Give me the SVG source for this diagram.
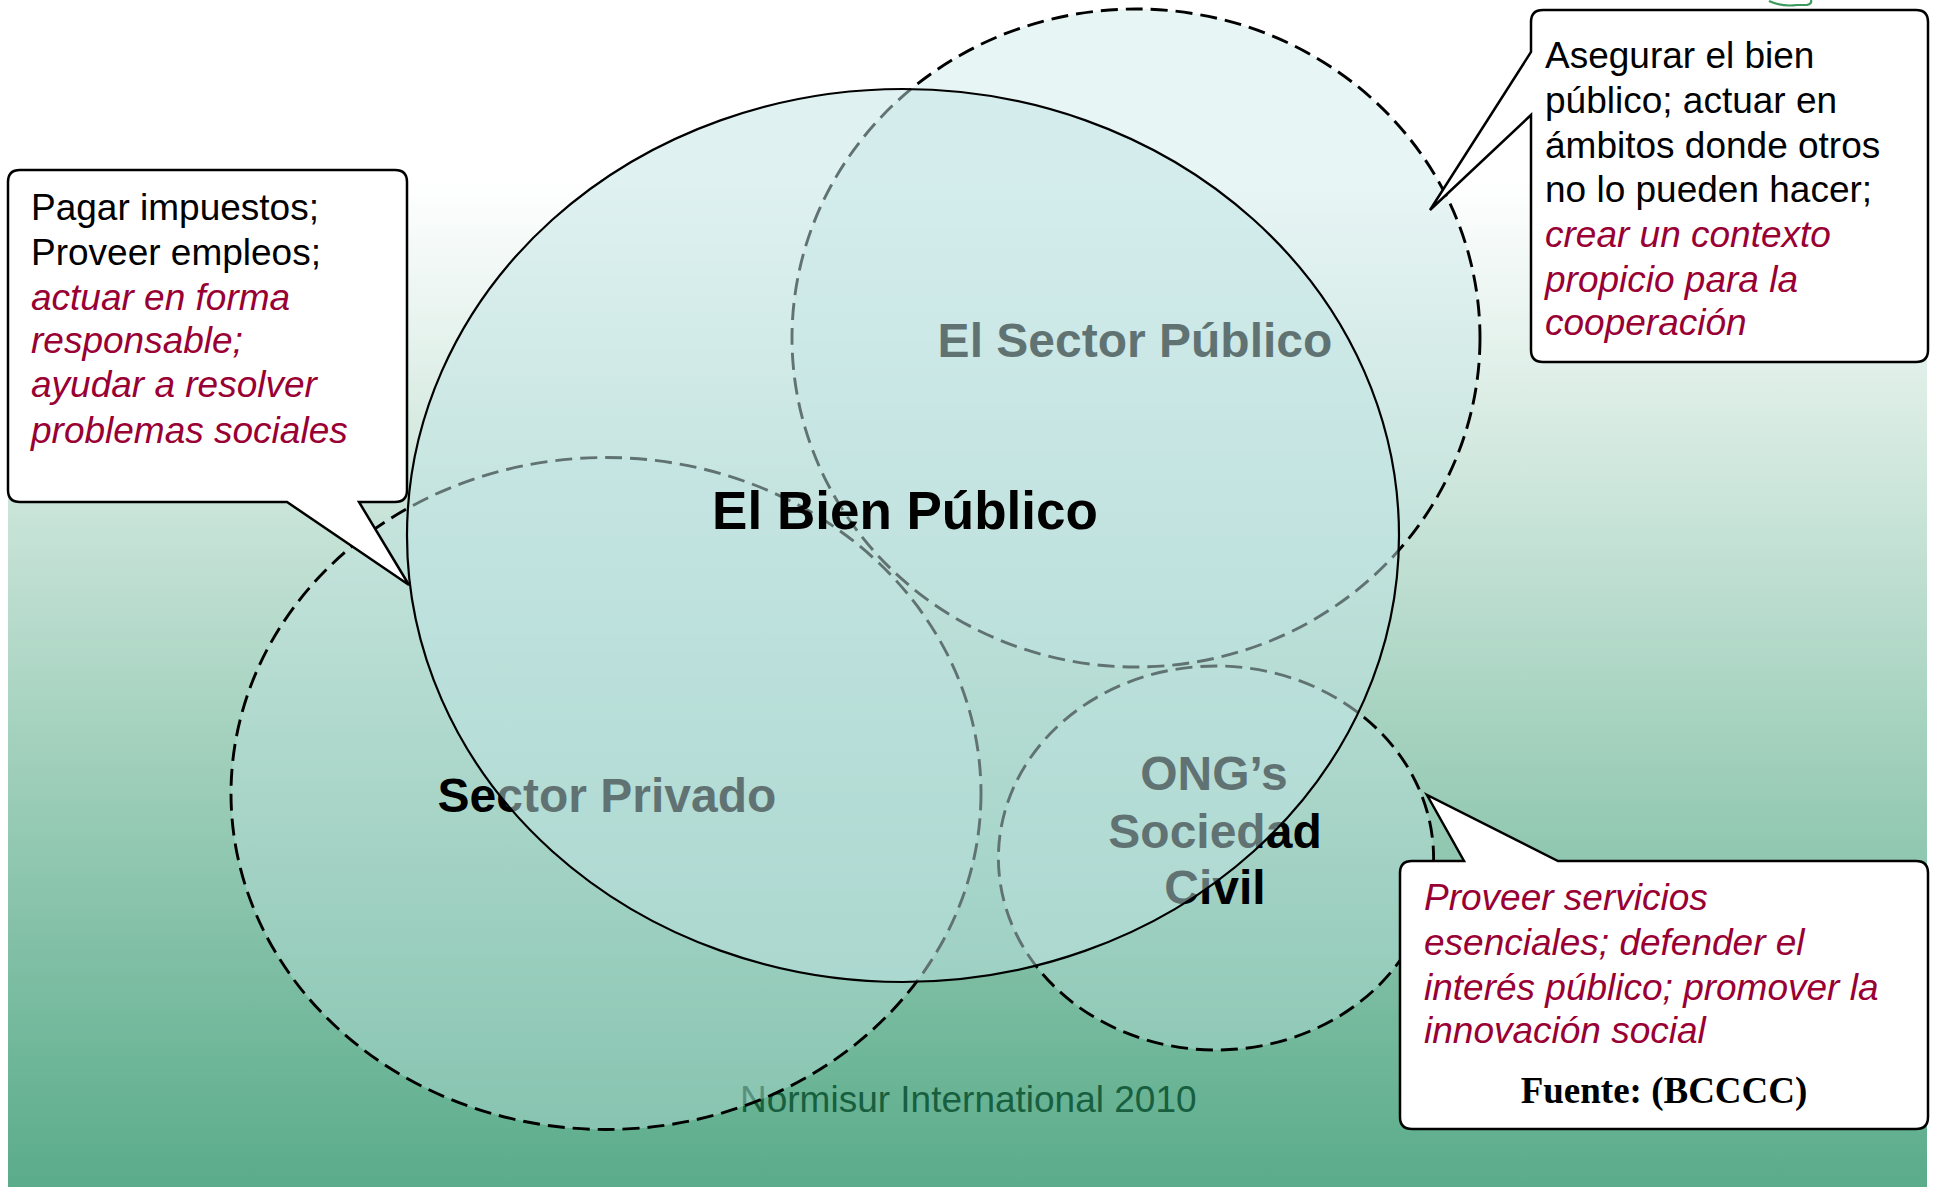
<svg xmlns="http://www.w3.org/2000/svg" width="1933" height="1187" viewBox="0 0 1933 1187">
  <defs>
    <linearGradient id="bg" gradientUnits="userSpaceOnUse" x1="0" y1="0" x2="0" y2="1187">
      <stop offset="0" stop-color="#ffffff"/>
      <stop offset="0.152" stop-color="#ffffff"/>
      <stop offset="1" stop-color="#5aac8a"/>
    </linearGradient>
  </defs>
  <style>
    .dash { fill: rgba(195,230,230,0.38); stroke: #000; stroke-width: 2.9; stroke-dasharray: 17 8; }
    .big { fill: rgba(191,227,227,0.5); stroke: #000; stroke-width: 2.2; }
    .call { fill: #fff; stroke: #000; stroke-width: 2.5; stroke-linejoin: miter; }
    .t { font-family: "Liberation Sans", Arial, sans-serif; font-size: 37px; fill: #000; }
    .r { font-style: italic; fill: #990033; }
    .lbl { font-family: "Liberation Sans", Arial, sans-serif; font-size: 48px; font-weight: bold; fill: #000; text-anchor: middle; }
  </style>

  <rect x="8" y="0" width="1919" height="1187" fill="url(#bg)"/>

  <path d="M1769,1 Q1782,7 1797,5 L1807,5 Q1812,4 1811,0" fill="none" stroke="#3c9a5c" stroke-width="2.2"/>

  <text id="watermark" class="t" x="740" y="1112" style="fill:#175f3f">Normisur International 2010</text>

  <g id="sector-publico">
    <ellipse class="dash" cx="1136" cy="338" rx="344" ry="329"/>
  </g>
  <g id="sector-privado">
    <ellipse class="dash" cx="606" cy="793.5" rx="375" ry="336"/>
  </g>
  <g id="ong-sociedad-civil">
    <ellipse class="dash" cx="1216" cy="858" rx="217.6" ry="192"/>
  </g>

  <g id="labels">
    <text class="lbl" x="1135" y="357">El Sector Público</text>
    <text class="lbl" x="607" y="812">Sector Privado</text>
    <text class="lbl" x="1214" y="790">ONG’s</text>
    <text class="lbl" x="1215" y="848">Sociedad</text>
    <text class="lbl" x="1215" y="904">Civil</text>
  </g>

  <g id="bien-publico">
    <ellipse class="big" cx="903" cy="535.5" rx="496" ry="446.5"/>
    <text class="lbl" x="905" y="529" style="font-size:53px">El Bien Público</text>
  </g>

  <g id="connectors"></g>

  <g id="callout-privado">
    <path class="call" d="M20,170 H395 Q407,170 407,182 V490 Q407,502 395,502 H359 L409,585 L287,502 H20 Q8,502 8,490 V182 Q8,170 20,170 Z"/>
    <text class="t" x="31" y="220">Pagar impuestos;</text>
    <text class="t" x="31" y="265">Proveer empleos;</text>
    <text class="t r" x="31" y="310">actuar en forma</text>
    <text class="t r" x="31" y="353">responsable;</text>
    <text class="t r" x="31" y="397">ayudar a resolver</text>
    <text class="t r" x="31" y="443">problemas sociales</text>
  </g>

  <g id="callout-publico">
    <path class="call" d="M1543,10 H1916 Q1928,10 1928,22 V350 Q1928,362 1916,362 H1543 Q1531,362 1531,350 V115 L1430,210 L1531,52 V22 Q1531,10 1543,10 Z"/>
    <text class="t" x="1545" y="68">Asegurar el bien</text>
    <text class="t" x="1545" y="113">público; actuar en</text>
    <text class="t" x="1545" y="158">ámbitos donde otros</text>
    <text class="t" x="1545" y="202">no lo pueden hacer;</text>
    <text class="t r" x="1545" y="247">crear un contexto</text>
    <text class="t r" x="1545" y="292">propicio para la</text>
    <text class="t r" x="1545" y="335">cooperación</text>
  </g>

  <g id="callout-ong">
    <path class="call" d="M1412,861 H1464 L1427,795 L1558,861 H1916 Q1928,861 1928,873 V1117 Q1928,1129 1916,1129 H1412 Q1400,1129 1400,1117 V873 Q1400,861 1412,861 Z"/>
    <text class="t r" x="1424" y="910">Proveer servicios</text>
    <text class="t r" x="1424" y="955">esenciales; defender el</text>
    <text class="t r" x="1424" y="1000">interés público; promover la</text>
    <text class="t r" x="1424" y="1043">innovación social</text>
    <text x="1664" y="1103" text-anchor="middle" style="font-family:'Liberation Serif','Times New Roman',serif;font-size:37px;font-weight:bold;fill:#000">Fuente: (BCCCC)</text>
  </g>
</svg>
